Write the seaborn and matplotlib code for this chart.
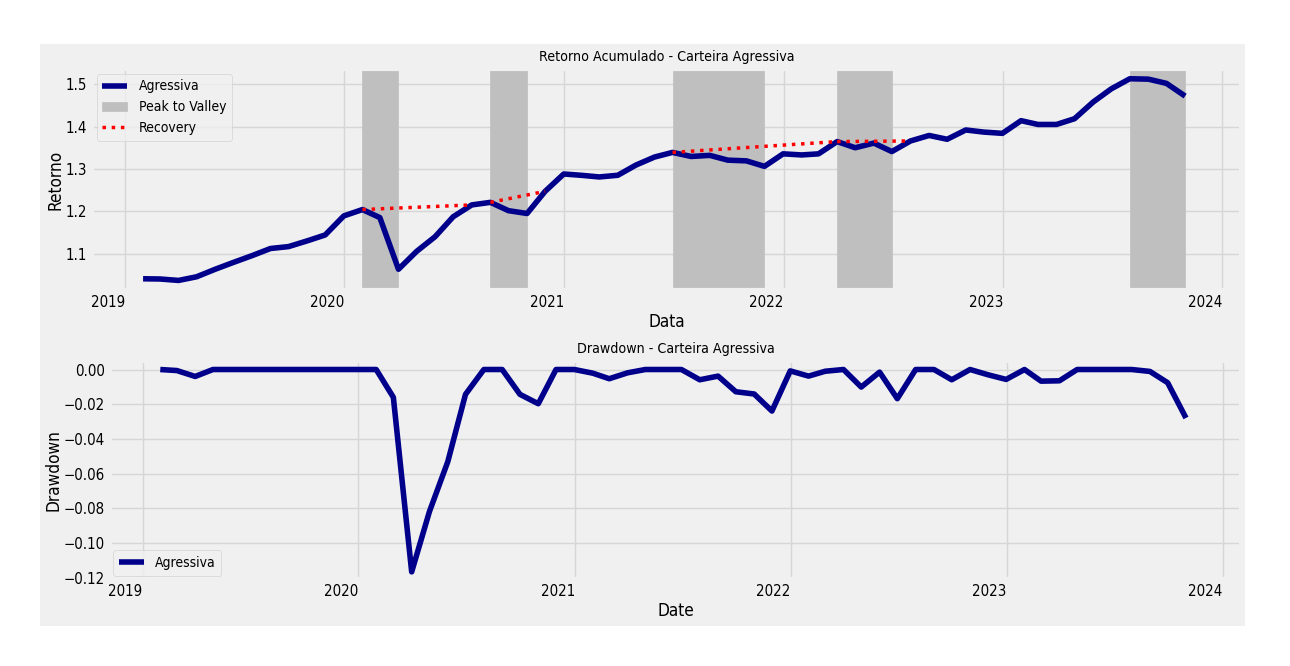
import matplotlib
matplotlib.use('Agg')
import matplotlib.pyplot as plt
import matplotlib.dates as mdates
import matplotlib.ticker as mticker
from matplotlib.patches import Rectangle
import pandas as pd
import seaborn as sns

# monthly dates (month end)
dates = pd.date_range('2019-01-31', '2023-10-31', freq='ME')

retorno = [
    1.0405, 1.040, 1.0366, 1.0452, 1.063, 1.079, 1.095, 1.112, 1.1165, 1.130, 1.144, 1.189,
    1.204, 1.185, 1.063, 1.105, 1.140, 1.187, 1.215, 1.221, 1.2014, 1.1947, 1.247, 1.288,
    1.2847, 1.281, 1.285, 1.309, 1.328, 1.339, 1.3294, 1.332, 1.3207, 1.319, 1.306, 1.3356,
    1.333, 1.3356, 1.3646, 1.350, 1.361, 1.341, 1.366, 1.379, 1.370, 1.392, 1.387, 1.384,
    1.414, 1.405, 1.405, 1.4186, 1.458, 1.489, 1.513, 1.512, 1.502, 1.472,
]

drawdown = [
    0.0, -0.0006, -0.004, 0.0, 0.0, 0.0, 0.0, 0.0, 0.0, 0.0, 0.0, 0.0,
    0.0, -0.016, -0.1165, -0.0818, -0.0531, -0.0143, 0.0, 0.0, -0.0143, -0.0197, 0.0, 0.0,
    -0.0021, -0.0053, -0.0019, 0.0, 0.0, 0.0, -0.0059, -0.0038, -0.0128, -0.0141, -0.0239, -0.0008,
    -0.0038, -0.001, 0.0, -0.0101, -0.0015, -0.0168, 0.0, 0.0, -0.0059, 0.0, -0.003, -0.0057,
    0.0, -0.0067, -0.0065, 0.0, 0.0, 0.0, 0.0, -0.0011, -0.0076, -0.0279,
]

# top drawdown periods
peak_dates = ['2020-01-31', '2020-08-31', '2021-06-30', '2022-03-31', '2023-07-31']
valley_dates = ['2020-03-31', '2020-10-31', '2021-11-30', '2022-06-30', '2023-10-31']
recovery_dates = ['2020-07-31', '2020-11-30', '2022-03-31', '2022-07-31', None]

df = pd.DataFrame({'Date': dates, 'Retorno': retorno, 'Drawdown': drawdown})
serie = df.set_index('Date')['Retorno']

plt.style.use('fivethirtyeight')
plt.rcParams['font.family'] = ['DejaVu Sans']
plt.rcParams['font.stretch'] = 'condensed'
plt.rcParams['grid.color'] = '#d6d6d6'

fig = plt.figure(figsize=(12.9, 6.66), dpi=100, facecolor='white')
W, H = 1290, 666
# grey figure area inside the white border
fig.add_artist(Rectangle((40 / W, 1 - 626 / H), 1205 / W, 582 / H,
                         transform=fig.transFigure, facecolor='#f0f0f0',
                         edgecolor='none', zorder=-10))

ax1 = fig.add_axes([92 / W, 1 - 290 / H, 1149 / W, 221 / H])
ax2 = fig.add_axes([110 / W, 1 - 579 / H, 1131 / W, 218 / H])

# Retorno acumulado
sns.lineplot(data=df, x='Date', y='Retorno', ax=ax1, color='darkblue',
             linewidth=4, label='Agressiva', zorder=3)

for i, (p, v, r) in enumerate(zip(peak_dates, valley_dates, recovery_dates)):
    ax1.axvspan(pd.Timestamp(p), pd.Timestamp(v), color='#bfbfbf',
                zorder=1, label='Peak to Valley' if i == 0 else None)
    if r is not None:
        ax1.plot([pd.Timestamp(p), pd.Timestamp(r)],
                 [serie[pd.Timestamp(p)], serie[pd.Timestamp(r)]],
                 'r:', linewidth=2.5, zorder=4,
                 label='Recovery' if i == 0 else None)

ax1.set_title('Retorno Acumulado - Carteira Agressiva', fontsize=10.2)
ax1.set_xlabel('Data', fontsize=12.3, labelpad=2)
ax1.set_ylabel('Retorno', fontsize=12.3, labelpad=1)
ax1.set_ylim(1.014, 1.536)
ax1.set_yticks([1.1, 1.2, 1.3, 1.4, 1.5])
ax1.yaxis.set_major_formatter(mticker.FormatStrFormatter('%.1f'))
ax1.legend(loc='upper left', fontsize=10, handlelength=1.8, borderaxespad=0.35)

# Drawdown
sns.lineplot(data=df, x='Date', y='Drawdown', ax=ax2, color='darkblue',
             linewidth=4, label='Agressiva')
ax2.set_title('Drawdown - Carteira Agressiva', fontsize=10.2)
ax2.set_xlabel('Date', fontsize=12.3, labelpad=2)
ax2.set_ylabel('Drawdown', fontsize=12.3, labelpad=1)
ax2.set_ylim(-0.1206, 0.0049)
ax2.set_yticks([0.0, -0.02, -0.04, -0.06, -0.08, -0.10, -0.12])
ax2.yaxis.set_major_formatter(
    mticker.FuncFormatter(lambda v, pos: ('%.2f' % v).replace('-', '\u2212')))
ax2.legend(loc='lower left', fontsize=10, handlelength=1.8, borderaxespad=0.25)

for ax in (ax1, ax2):
    ax.set_xlim(pd.Timestamp('2018-11-07'), pd.Timestamp('2024-02-01'))
    ax.xaxis.set_major_locator(mdates.YearLocator())
    ax.xaxis.set_major_formatter(mdates.DateFormatter('%Y'))
    ax.tick_params(labelsize=10.8)
    for lbl in ax.get_xticklabels():
        lbl.set_horizontalalignment('right')

fig.savefig('out.png', dpi=100, facecolor='white')
